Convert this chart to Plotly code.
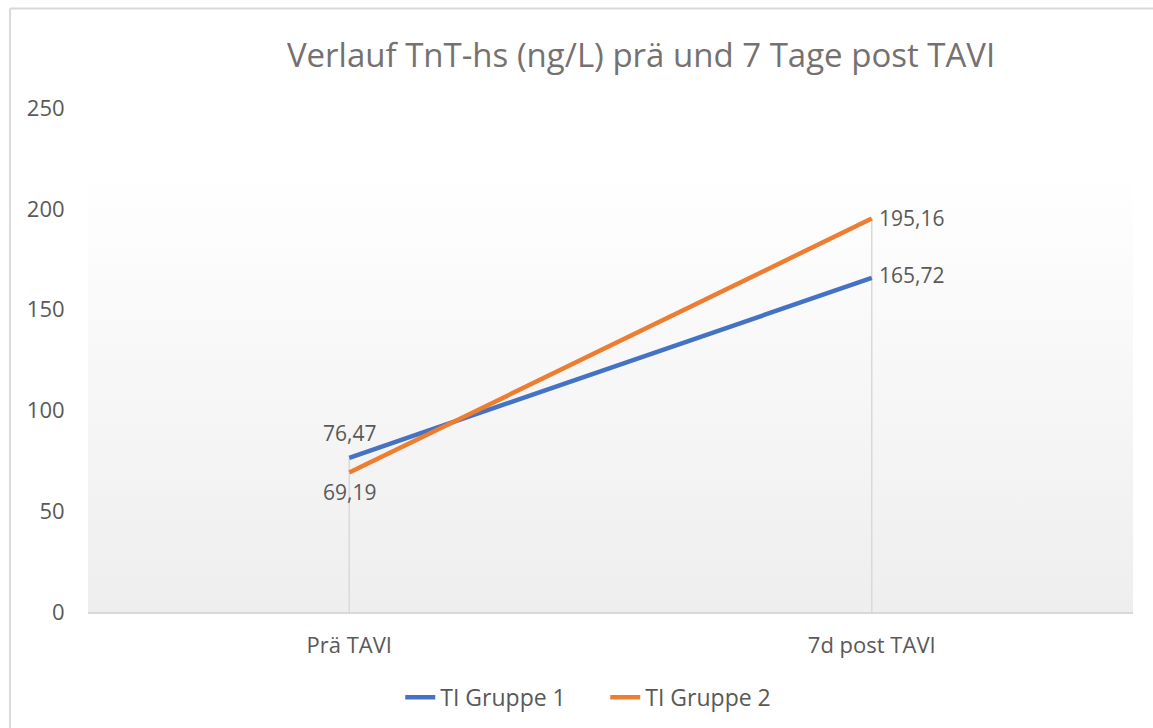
import base64
import plotly.graph_objects as go

# Daten aus dem Excel-Diagramm
kategorien = ["Prä TAVI", "7d post TAVI"]
gruppe1 = [76.47, 165.72]
gruppe2 = [69.19, 195.16]
y_ticks = [0, 50, 100, 150, 200, 250]

blau = "#4472C4"
orange = "#ED7D31"
grau = "#595959"
schrift = "Open Sans"

# Plotfläche mit leichtem Verlauf (weiß oben, hellgrau unten) als SVG-Bild
svg = (
    '<svg xmlns="http://www.w3.org/2000/svg" width="100" height="100" preserveAspectRatio="none">'
    '<defs><linearGradient id="g" x1="0" y1="0" x2="0" y2="1">'
    '<stop offset="0.12" stop-color="#ffffff"/><stop offset="1" stop-color="#eeeeee"/>'
    '</linearGradient></defs><rect width="100" height="100" fill="url(#g)"/></svg>'
)
bg_src = "data:image/svg+xml;base64," + base64.b64encode(svg.encode()).decode()

fig = go.Figure()

# Lotlinien (Excel "drop lines") vom jeweils höchsten Wert zur Achse
drop_x, drop_y = [], []
for k, a, b in zip(kategorien, gruppe1, gruppe2):
    drop_x += [k, k, None]
    drop_y += [0, max(a, b), None]
fig.add_trace(go.Scatter(x=drop_x, y=drop_y, mode="lines", showlegend=False, hoverinfo="skip",
                         line=dict(color="#d9d9d9", width=1.5)))

fig.add_trace(go.Scatter(x=kategorien, y=gruppe1, name="TI Gruppe 1", mode="lines",
                         line=dict(color=blau, width=4.5)))
fig.add_trace(go.Scatter(x=kategorien, y=gruppe2, name="TI Gruppe 2", mode="lines",
                         line=dict(color=orange, width=4.5)))

# Datenbeschriftungen wie in Excel
labels = []
for i, k in enumerate(kategorien):
    for werte, oben in ((gruppe1, gruppe1[i] >= gruppe2[i]), (gruppe2, gruppe2[i] > gruppe1[i])):
        txt = f"{werte[i]:.2f}".replace(".", ",")
        if i == 0:
            labels.append(dict(x=k, y=werte[i], text=txt, showarrow=False, xanchor="center",
                               yanchor="middle", yshift=25 if oben else -19))
        else:
            labels.append(dict(x=k, y=werte[i], text=txt, showarrow=False, xanchor="left",
                               yanchor="middle", xshift=5, yshift=1 if oben else 3))

fig.update_layout(
    width=1153, height=728,
    margin=dict(l=88, r=20, t=108, b=116, autoexpand=False),
    paper_bgcolor="white", plot_bgcolor="white",
    separators=",.",
    font=dict(family=schrift, size=21, color=grau),
    title=dict(text="Verlauf TnT-hs (ng/L) prä und 7 Tage post TAVI",
               x=0.556, xanchor="center", y=1 - 55 / 728, yanchor="middle",
               font=dict(family=schrift, size=33, color="#767171")),
    legend=dict(orientation="h", x=0.495, xanchor="center", y=-0.169, yanchor="middle",
                entrywidth=160, entrywidthmode="pixels",
                font=dict(family=schrift, size=23, color=grau)),
    annotations=labels,
    images=[dict(source=bg_src, xref="paper", yref="paper", x=0, y=1, sizex=1, sizey=1,
                 xanchor="left", yanchor="top", sizing="stretch", layer="below")],
    shapes=[
        dict(type="line", xref="paper", yref="paper", x0=-0.0746, x1=1.02, y0=1.1974, y1=1.1974,
             line=dict(color="#d9d9d9", width=2)),
        dict(type="line", xref="paper", yref="paper", x0=-0.0746, x1=-0.0746, y0=1.1974, y1=-0.24,
             line=dict(color="#d9d9d9", width=2)),
    ],
)
fig.update_xaxes(
    type="category", range=[-0.5, 1.5], showgrid=False,
    showline=True, linecolor="#d9d9d9", linewidth=2,
    ticks="outside", ticklen=13, tickcolor="rgba(0,0,0,0)",
    tickfont=dict(family=schrift, size=22, color=grau),
)
fig.update_yaxes(
    range=[0, 250], tickvals=y_ticks, showgrid=False, zeroline=False, showline=False,
    ticks="outside", ticklen=18, tickcolor="rgba(0,0,0,0)",
    tickfont=dict(family=schrift, size=22, color=grau),
)

fig.write_html("out.html", config={"displayModeBar": False},
               post_script="document.body.style.margin='0';document.body.style.overflow='hidden';")
